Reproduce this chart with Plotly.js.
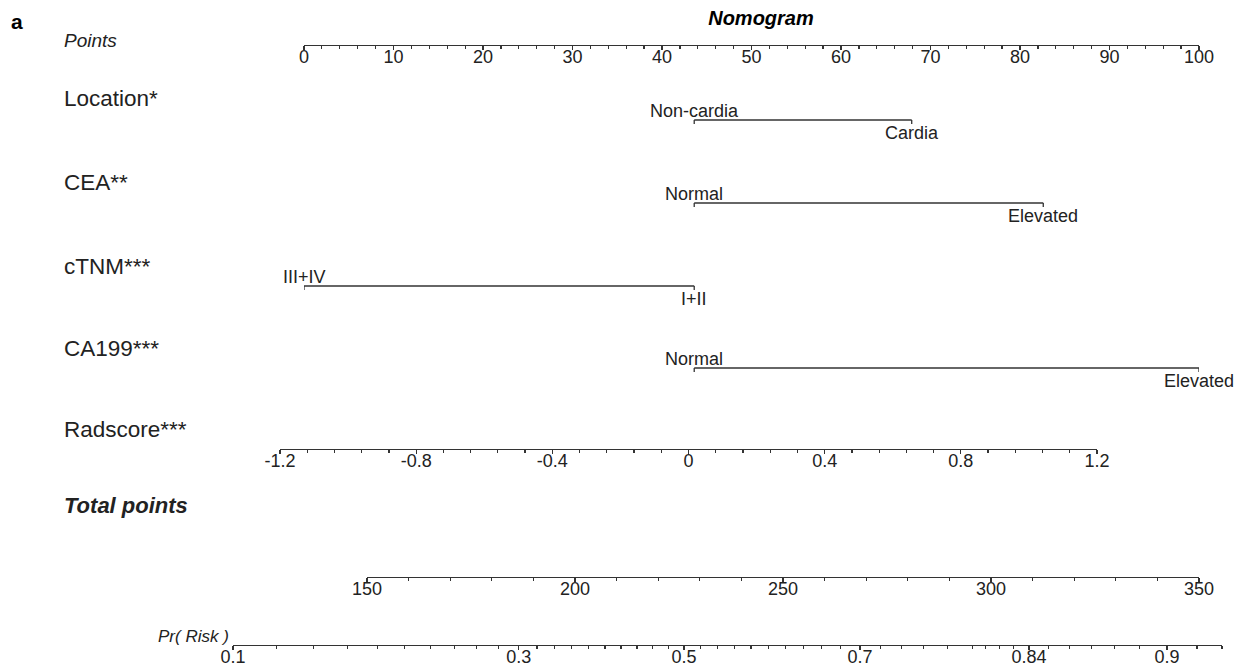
<!DOCTYPE html>
<html><head><meta charset="utf-8">
<script src="https://cdn.plot.ly/plotly-3.0.1.min.js"></script>
<style>html,body{margin:0;padding:0;background:#fff}#chart{width:1244px;height:668px}</style>
</head><body><div id="chart"></div>
<script>
// ---- data ----
const pointsTicks = [0,10,20,30,40,50,60,70,80,90,100];
const locationLevels = ['Non-cardia','Cardia'];
const locationPoints = [43.6, 67.9];
const ceaLevels = ['Normal','Elevated'];
const ceaPoints = [43.6, 82.6];
const ctnmLevels = ['III+IV','I+II'];
const ctnmPoints = [0, 43.6];
const ca199Levels = ['Normal','Elevated'];
const ca199Points = [43.6, 100];
const radscoreTicks = [-1.2,-0.8,-0.4,0,0.4,0.8,1.2];
const totalTicks = [150,200,250,300,350];
const riskLabels = ['0.1','0.3','0.5','0.7','0.84','0.9'];
const riskValues = [0.1,0.3,0.5,0.7,0.84,0.9];
const riskTotalPoints = [117.8,186.5,226.2,268.5,309.1,342.3];   // where each labelled Pr sits on the total-points scale
const riskAxisTotalRange = [117.8, 355.5];                        // extent of the Pr( Risk ) axis in total points
const riskMinor = [0.12,0.14,0.16,0.18,0.2,0.22,0.24,0.26,0.28,0.32,0.34,0.36,0.38,0.4,0.42,0.44,0.46,0.48,
                   0.52,0.54,0.56,0.58,0.6,0.62,0.64,0.66,0.68,0.72,0.74,0.76,0.78,0.8,0.81,0.82,0.83,0.85,0.86,0.87,0.88,0.89,0.91];

// ---- layout helpers ----
const W = 1244, H = 668;
const FONT = 'Liberation Sans, Arial, sans-serif';
const INK = '#222', LINE = '#333';
const fx = v => v / W, fy = v => 1 - v / H;
const logit = p => Math.log(p / (1 - p));
// monotone scale: piecewise linear in logit between the labelled anchors
const toTotal = p => {
  const L = logit(p), A = riskValues.map(logit);
  let i = 0;
  while (i < A.length - 2 && L > A[i + 1]) i++;
  const t = (L - A[i]) / (A[i + 1] - A[i]);
  return riskTotalPoints[i] + t * (riskTotalPoints[i + 1] - riskTotalPoints[i]);
};

const rows = [
  {name:'Location*', levels:locationLevels, pts:locationPoints, y:120, ly:99},
  {name:'CEA**', levels:ceaLevels, pts:ceaPoints, y:203, ly:182},
  {name:'cTNM***', levels:ctnmLevels, pts:ctnmPoints, y:286, ly:266},
  {name:'CA199***', levels:ca199Levels, pts:ca199Points, y:368, ly:348}
];

const traces = [];
const annotations = [];
rows.forEach(r => {
  traces.push({
    type:'scatter', mode:'lines', x:r.pts, y:[r.y, r.y], xaxis:'x', yaxis:'y',
    line:{color:LINE, width:1.4}, hoverinfo:'skip', showlegend:false,
    error_y:{type:'data', symmetric:false, array:[4,4], arrayminus:[0,0], width:0, thickness:1.3, color:LINE}
  });
  r.levels.forEach((lv, i) => {
    annotations.push({
      xref:'x', yref:'y', x:r.pts[i], y: i % 2 === 0 ? r.y - 9 : r.y + 13,
      text:lv, showarrow:false, xanchor:'center', yanchor:'middle',
      font:{family:FONT, size:18, color:INK}
    });
  });
});

// invisible carriers so each free axis has a subplot
traces.push({type:'scatter', mode:'markers', x:[radscoreTicks[0], radscoreTicks[radscoreTicks.length-1]], y:[449,449],
  xaxis:'x2', yaxis:'y', marker:{opacity:0}, hoverinfo:'skip', showlegend:false});
traces.push({type:'scatter', mode:'markers', x:[totalTicks[0], totalTicks[totalTicks.length-1]], y:[577,577],
  xaxis:'x3', yaxis:'y', marker:{opacity:0}, hoverinfo:'skip', showlegend:false});
traces.push({type:'scatter', mode:'markers', x:riskTotalPoints, y:riskTotalPoints.map(()=>645),
  xaxis:'x4', yaxis:'y', marker:{opacity:0}, hoverinfo:'skip', showlegend:false});

// row titles
const leftLabel = (text, y, size, style, weight) => annotations.push({
  xref:'paper', yref:'paper', x:fx(62), y:fy(y), xanchor:'left', yanchor:'middle', showarrow:false,
  text:text, font:{family:FONT, size:size, color:INK, style:style||'normal', weight:weight||'normal'}
});
leftLabel('Points', 40, 19, 'italic');
rows.forEach(r => leftLabel(r.name, r.ly, 22.5));
leftLabel('Radscore***', 429, 22.5);
leftLabel('Total points', 505, 22, 'italic', 'bold');
annotations.push({xref:'paper', yref:'paper', x:fx(231), y:fy(636), xanchor:'right', yanchor:'middle', showarrow:false,
  text:'Pr( Risk )', font:{family:FONT, size:17, color:INK, style:'italic'}});
annotations.push({xref:'paper', yref:'paper', x:fx(9), y:fy(22), xanchor:'left', yanchor:'middle', showarrow:false,
  text:'a', font:{family:FONT, size:21, color:'#000', weight:'bold'}});

const axisBase = {
  anchor:'free', side:'bottom', showline:true, linecolor:LINE, linewidth:1.4,
  ticks:'outside', ticklen:4, tickwidth:1.2, tickcolor:LINE, showgrid:false, zeroline:false,
  tickfont:{family:FONT, size:18, color:INK}, fixedrange:true, ticklabelstandoff:-9
};
const minorBase = {ticks:'outside', ticklen:3, tickcolor:LINE, tickwidth:1.2};

const layout = {
  width:W, height:H, margin:{l:0, r:0, t:0, b:0}, paper_bgcolor:'#fff', plot_bgcolor:'rgba(0,0,0,0)',
  showlegend:false,
  title:{text:'<b><i>Nomogram</i></b>', x:fx(761), xanchor:'center', y:fy(18), yanchor:'middle',
         font:{family:FONT, size:20, color:'#000'}},
  xaxis:Object.assign({}, axisBase, {domain:[fx(304), fx(1199)], range:[0,100], position:fy(45),
    tickmode:'array', tickvals:pointsTicks, ticktext:pointsTicks.map(String),
    minor:Object.assign({tickmode:'linear', tick0:0, dtick:2}, minorBase)}),
  xaxis2:Object.assign({}, axisBase, {domain:[fx(280), fx(1097)], range:[-1.2,1.2], position:fy(449),
    tickmode:'array', tickvals:radscoreTicks, ticktext:radscoreTicks.map(String),
    minor:Object.assign({tickmode:'linear', tick0:-1.2, dtick:0.08}, minorBase)}),
  xaxis3:Object.assign({}, axisBase, {domain:[fx(367), fx(1199)], range:[150,350], position:fy(577),
    tickmode:'array', tickvals:totalTicks, ticktext:totalTicks.map(String),
    minor:Object.assign({tickmode:'linear', tick0:150, dtick:10}, minorBase)}),
  xaxis4:Object.assign({}, axisBase, {domain:[fx(233), fx(1222)], range:riskAxisTotalRange, position:fy(645),
    tickmode:'array', tickvals:riskTotalPoints, ticktext:riskLabels,
    minor:Object.assign({tickmode:'array', tickvals:riskMinor.map(toTotal).concat([riskAxisTotalRange[1]])}, minorBase)}),
  yaxis:{domain:[0,1], range:[H,0], visible:false, fixedrange:true},
  annotations:annotations
};

Plotly.newPlot('chart', traces, layout, {displayModeBar:false, staticPlot:true});
</script>
</body></html>
